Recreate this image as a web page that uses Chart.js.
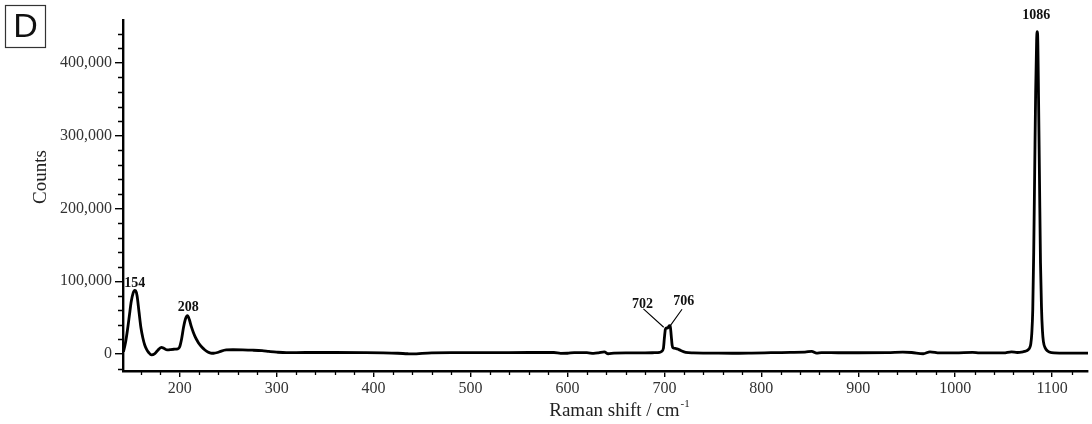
<!DOCTYPE html>
<html>
<head>
<meta charset="utf-8">
<script src="https://cdn.jsdelivr.net/npm/chart.js@4.4.1/dist/chart.umd.min.js"></script>
<style>
  body { margin: 0; background: #fff; }
  #spectrum { display: block; }
</style>
</head>
<body>
<canvas id="spectrum" width="1092" height="424"></canvas>
<script>
// Raman shift (cm-1) and counts
let ramanShift = [
  142, 144, 146, 148, 150, 152, 153.5, 154.5, 156, 158, 160, 162, 164, 166, 168, 171, 174, 177, 181, 184,
  187, 190, 194, 198, 200, 202, 204, 206, 208, 210, 212, 214, 216, 218, 220, 223, 226, 229, 232, 235,
  239, 243, 248, 255, 265, 275, 285, 292, 300, 310, 330, 360, 390, 410, 425, 435, 442, 450, 460, 480,
  520, 560, 586, 593, 600, 607, 620, 627, 632, 638, 642, 648, 660, 680, 690, 695, 697, 699, 700, 701,
  702, 703, 704, 705, 706, 707, 708, 709, 712, 715, 718, 722, 730, 750, 770, 790, 810, 830, 845, 852,
  857, 862, 880, 900, 930, 946, 955, 967, 974, 984, 1000, 1018, 1025, 1040, 1050, 1058, 1064, 1070, 1073, 1075,
  1077, 1078, 1079, 1080, 1081, 1082, 1083, 1084, 1084.5, 1085, 1086, 1087, 1088, 1089, 1090, 1091, 1093, 1095, 1097, 1102,
  1115, 1137
];
let counts = [
  3000, 15000, 32000, 52000, 72000, 84000, 87500, 87000, 80000, 58000, 36000, 22000, 12000, 6000, 2000, -1300, 0, 4500, 9200, 7500,
  5500, 6000, 6500, 7000, 10000, 21000, 37000, 48500, 52700, 47000, 37500, 30000, 23500, 18500, 14000, 9200, 5500, 2800, 1300, 1000,
  2000, 4000, 5500, 5800, 5600, 5200, 4500, 3500, 2500, 1800, 2000, 2000, 1800, 1500, 1000, 300, 0, 800, 1500, 1800,
  1800, 2000, 2000, 800, 1000, 1800, 1800, 800, 1500, 3000, 300, 1200, 1500, 1500, 1800, 2200, 3500, 8000, 22000, 34000,
  36000, 35500, 36500, 39000, 38500, 26000, 12000, 8500, 7500, 6000, 4000, 2200, 1500, 1200, 1000, 1300, 1800, 2300, 2500, 3700,
  1200, 1800, 1700, 1700, 1800, 2500, 2000, 300, 3000, 1500, 1500, 2300, 1500, 1400, 1500, 3000, 2000, 3000, 4000, 5500,
  9000, 14000, 28000, 60000, 140000, 250000, 360000, 430000, 443000, 440000, 350000, 235000, 125000, 65000, 32000, 17000, 8000, 4500, 2800, 1500,
  1200, 1200
];

// tick labels
let xTickValues = [200, 300, 400, 500, 600, 700, 800, 900, 1000, 1100];
let yTickValues = [0, 100000, 200000, 300000, 400000];

// peak annotations (text anchor in data units)
let peakNames = ['154', '208', '702', '706', '1086'];
let peakTextX = [153.6, 208.8, 677.3, 720.1, 1083.5];
let peakTextY = [97600, 64600, 68800, 71900, 466000];

// leader lines for the 702 / 706 doublet
let leaderFromX = [678.4, 718.2];
let leaderFromY = [61900, 61500];
let leaderToX = [699.3, 705.4];
let leaderToY = [36700, 37500];

const serif = '"Liberation Serif", "DejaVu Serif", serif';

const extras = {
  id: 'extras',
  afterDraw(chart) {
    const ctx = chart.ctx;
    const xs = chart.scales.x;
    const ys = chart.scales.y;
    const area = chart.chartArea;
    ctx.save();

    // minor ticks
    ctx.strokeStyle = '#000';
    ctx.lineWidth = 1.3;
    ctx.beginPath();
    for (let v = -20000; v <= 440000; v += 20000) {
      if (v % 100000 === 0) continue;
      const py = Math.round(ys.getPixelForValue(v)) + 0.5;
      ctx.moveTo(area.left - 5, py);
      ctx.lineTo(area.left, py);
    }
    for (let v = 160; v <= 1120; v += 20) {
      if (v % 100 === 0) continue;
      const px = Math.round(xs.getPixelForValue(v)) + 0.5;
      ctx.moveTo(px, area.bottom);
      ctx.lineTo(px, area.bottom + 4);
    }
    ctx.stroke();

    // peak labels
    ctx.fillStyle = '#111';
    ctx.font = 'bold 14px ' + serif;
    ctx.textAlign = 'center';
    ctx.textBaseline = 'middle';
    peakNames.forEach((t, i) => {
      ctx.fillText(t, xs.getPixelForValue(peakTextX[i]), ys.getPixelForValue(peakTextY[i]));
    });

    ctx.lineWidth = 1.1;
    ctx.beginPath();
    leaderFromX.forEach((x0, i) => {
      ctx.moveTo(xs.getPixelForValue(x0), ys.getPixelForValue(leaderFromY[i]));
      ctx.lineTo(xs.getPixelForValue(leaderToX[i]), ys.getPixelForValue(leaderToY[i]));
    });
    ctx.stroke();

    // axis titles
    ctx.fillStyle = '#222';
    ctx.font = '19px ' + serif;
    ctx.textAlign = 'left';
    ctx.textBaseline = 'alphabetic';
    const main = 'Raman shift / cm';
    const wMain = ctx.measureText(main).width;
    ctx.font = '11px ' + serif;
    const wSup = ctx.measureText('-1').width;
    const startX = 619 - (wMain + wSup) / 2;
    ctx.font = '19px ' + serif;
    ctx.fillText(main, startX, 415.5);
    ctx.font = '11px ' + serif;
    ctx.fillText('-1', startX + wMain + 1, 407);

    ctx.save();
    ctx.translate(46, 177);
    ctx.rotate(-Math.PI / 2);
    ctx.font = '19px ' + serif;
    ctx.textAlign = 'center';
    ctx.fillText('Counts', 0, 0);
    ctx.restore();

    // panel letter
    ctx.strokeStyle = '#333';
    ctx.lineWidth = 1.2;
    ctx.strokeRect(5.5, 5.5, 40, 42);
    ctx.fillStyle = '#111';
    ctx.font = '34px "Liberation Sans", Arial, sans-serif';
    ctx.textAlign = 'center';
    ctx.textBaseline = 'middle';
    ctx.fillText('D', 25.5, 27.5);

    ctx.restore();
  }
};

const points = ramanShift.map((x, i) => ({ x: x, y: counts[i] }));

const ctx = document.getElementById('spectrum').getContext('2d');
const chart = new Chart(ctx, {
  type: 'line',
  data: {
    datasets: [{
      data: points,
      borderColor: '#000',
      borderWidth: 2.8,
      pointRadius: 0,
      fill: false,
      cubicInterpolationMode: 'monotone'
    }]
  },
  options: {
    responsive: false,
    animation: false,
    events: [],
    layout: { padding: { left: 0, right: 4, top: 20, bottom: 0 } },
    plugins: {
      legend: { display: false },
      tooltip: { enabled: false }
    },
    scales: {
      x: {
        type: 'linear',
        min: 141.5,
        max: 1137,
        afterBuildTicks(scale) { scale.ticks = xTickValues.map(v => ({ value: v })); },
        afterFit(scale) { scale.height = 53; },
        border: { display: true, color: '#000', width: 2.6 },
        grid: { drawOnChartArea: false, drawTicks: true, tickLength: 6, color: '#000', lineWidth: 1.4 },
        ticks: {
          maxRotation: 0,
          autoSkip: false,
          padding: 2,
          color: '#333',
          font: { family: serif, size: 16 },
          callback: (v) => String(v)
        }
      },
      y: {
        min: -23400,
        max: 459000,
        afterBuildTicks(scale) { scale.ticks = yTickValues.map(v => ({ value: v })); },
        afterFit(scale) { scale.width = 123; },
        border: { display: true, color: '#000', width: 2.4 },
        grid: { drawOnChartArea: false, drawTicks: true, tickLength: 8, color: '#000', lineWidth: 1.4 },
        ticks: {
          autoSkip: false,
          padding: 3,
          color: '#333',
          font: { family: serif, size: 16 },
          callback: (v) => v.toLocaleString('en-US')
        }
      }
    }
  },
  plugins: [extras]
});
</script>
</body>
</html>
